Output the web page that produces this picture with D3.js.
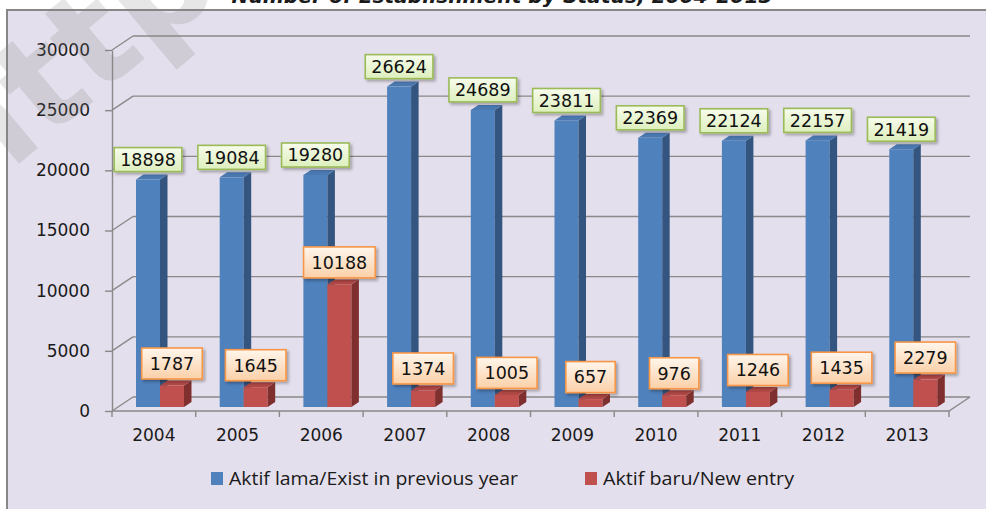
<!DOCTYPE html>
<html>
<head>
<meta charset="utf-8">
<script src="https://cdn.jsdelivr.net/npm/d3@7"></script>
<style>
  body { margin: 0; background: #ffffff; }
  svg { display: block; }
</style>
</head>
<body>
<div id="chart"></div>
<script>
// data
var years = ["2004", "2005", "2006", "2007", "2008", "2009", "2010", "2011", "2012", "2013"];
var existing = [18898, 19084, 19280, 26624, 24689, 23811, 22369, 22124, 22157, 21419];
var newEntry = [1787, 1645, 10188, 1374, 1005, 657, 976, 1246, 1435, 2279];
var yTicks = [0, 5000, 10000, 15000, 20000, 25000, 30000];
var seriesNames = ["Aktif lama/Exist in previous year", "Aktif baru/New entry"];
var title = "Number of Establishment by Status, 2004-2013";

var svgWidth = 986;
var svgHeight = 509;

// 3d box: front plane and back wall offset
var front = {left: 112, right: 949, bottom: 411, top: 50};
var depth = {dx: 21, dy: 14};
var barBase = 407;     // bars stand a bit inside the floor
var barDx = 7.5, barDy = 5;
var barW = 24;

var svg = d3.select("#chart")
  .append("svg")
  .attr("width", svgWidth)
  .attr("height", svgHeight);

var defs = svg.append("defs");

function addGrad(id, c1, c2) {
  var g = defs.append("linearGradient").attr("id", id)
    .attr("x1", 0).attr("y1", 0).attr("x2", 0).attr("y2", 1);
  g.append("stop").attr("offset", "0%").attr("stop-color", c1);
  g.append("stop").attr("offset", "100%").attr("stop-color", c2);
}
addGrad("greenFill", "#f7fcec", "#ddefbd");
addGrad("orangeFill", "#fff6ec", "#fbd0a8");

var shadow = defs.append("filter").attr("id", "shadow")
  .attr("x", "-20%").attr("y", "-20%").attr("width", "150%").attr("height", "160%");
shadow.append("feDropShadow")
  .attr("dx", 2).attr("dy", 2).attr("stdDeviation", 1.5)
  .attr("flood-color", "#000").attr("flood-opacity", 0.3);

// chart area frame
svg.append("rect")
  .attr("x", 7).attr("y", 10)
  .attr("width", 1100).attr("height", 600)
  .attr("fill", "#e4dfec")
  .attr("stroke", "#878787")
  .attr("stroke-width", 2);

// title, mostly cut off by the top of the picture
svg.append("text")
  .attr("x", 502).attr("y", 3)
  .attr("text-anchor", "middle")
  .attr("font-family", "DejaVu Sans")
  .attr("font-size", 19)
  .attr("font-style", "italic")
  .attr("font-weight", "bold")
  .attr("textLength", 541)
  .attr("lengthAdjust", "spacingAndGlyphs")
  .attr("fill", "#1a1a1a")
  .text(title);

var x = d3.scaleBand()
  .domain(years)
  .range([front.left, front.right]);

var yFront = d3.scaleLinear().domain([0, 30000]).range([front.bottom, front.top]);
var yBar = d3.scaleLinear().domain([0, 30000]).range([barBase, front.top - 4]);

var gridColor = "#898989";
var grid = svg.append("g");

// back wall gridlines + left side wall diagonals
yTicks.forEach(function(t) {
  var yf = yFront(t);
  grid.append("line")
    .attr("x1", front.left).attr("y1", yf)
    .attr("x2", front.left + depth.dx).attr("y2", yf - depth.dy)
    .attr("stroke", gridColor).attr("stroke-width", 1.4);
  grid.append("line")
    .attr("x1", front.left + depth.dx).attr("y1", yf - depth.dy)
    .attr("x2", front.right + depth.dx).attr("y2", yf - depth.dy)
    .attr("stroke", gridColor).attr("stroke-width", 1.4);
});

// floor outline
grid.append("path")
  .attr("d", "M" + front.left + "," + front.bottom +
    "L" + front.right + "," + front.bottom +
    "L" + (front.right + depth.dx) + "," + (front.bottom - depth.dy))
  .attr("fill", "none")
  .attr("stroke", gridColor).attr("stroke-width", 1.4);

// category ticks on band edges
d3.range(years.length + 1).forEach(function(i) {
  var tx = front.left + i * x.bandwidth();
  grid.append("line")
    .attr("x1", tx).attr("y1", front.bottom)
    .attr("x2", tx).attr("y2", front.bottom + 6)
    .attr("stroke", gridColor).attr("stroke-width", 1.4);
});

// y axis
var yAxis = svg.append("g")
  .attr("transform", "translate(" + front.left + ",0)")
  .call(d3.axisLeft(yFront).tickValues(yTicks).tickFormat(d3.format("d"))
    .tickSize(7).tickSizeOuter(0).tickPadding(15));
yAxis.select(".domain").attr("stroke", gridColor).attr("stroke-width", 1.4);
yAxis.selectAll(".tick line").attr("stroke", gridColor).attr("stroke-width", 1.4);
yAxis.selectAll("text")
  .attr("font-family", "DejaVu Sans")
  .attr("font-size", 17)
  .attr("fill", "#1a1a1a");

// x axis labels
var xAxis = svg.append("g")
  .attr("transform", "translate(0," + front.bottom + ")")
  .call(d3.axisBottom(x).tickSize(0).tickPadding(18));
xAxis.select(".domain").remove();
xAxis.selectAll("text")
  .attr("font-family", "DejaVu Sans")
  .attr("font-size", 17)
  .attr("fill", "#1a1a1a");

// 3d bar helper
function drawBar(g, bx, v, cFront, cSide, cTop) {
  var yt = yBar(v);
  g.append("rect")
    .attr("x", bx).attr("y", yt)
    .attr("width", barW).attr("height", barBase - yt)
    .attr("fill", cFront);
  g.append("path")
    .attr("d", "M" + (bx + barW) + "," + yt +
      "L" + (bx + barW + barDx) + "," + (yt - barDy) +
      "L" + (bx + barW + barDx) + "," + (barBase - barDy) +
      "L" + (bx + barW) + "," + barBase + "Z")
    .attr("fill", cSide);
  g.append("path")
    .attr("d", "M" + bx + "," + yt +
      "L" + (bx + barDx) + "," + (yt - barDy) +
      "L" + (bx + barW + barDx) + "," + (yt - barDy) +
      "L" + (bx + barW) + "," + yt + "Z")
    .attr("fill", cTop);
}

var bars = svg.append("g");
years.forEach(function(yr, i) {
  var bx = x(yr) + 24;
  drawBar(bars, bx, existing[i], "#4f81bd", "#33557f", "#4a78b0");
  drawBar(bars, bx + barW, newEntry[i], "#c0504d", "#7f302e", "#b24846");
});

// value labels
function drawLabel(g, cx, bottom, v, fill, stroke, padX, h) {
  var t = g.append("text")
    .attr("x", cx).attr("y", bottom - h / 2)
    .attr("dy", "0.36em")
    .attr("text-anchor", "middle")
    .attr("font-family", "DejaVu Sans")
    .attr("font-size", 17.5)
    .attr("fill", "#111")
    .text(v);
  var w = t.node().getComputedTextLength() + padX * 2;
  g.insert("rect", "text")
    .attr("x", cx - w / 2).attr("y", bottom - h)
    .attr("width", w).attr("height", h)
    .attr("fill", fill)
    .attr("stroke", stroke)
    .attr("stroke-width", 1.6)
    .attr("filter", "url(#shadow)");
}

var labels = svg.append("g");
years.forEach(function(yr, i) {
  var bx = x(yr) + 24;
  var g1 = labels.append("g");
  drawLabel(g1, bx + barW / 2, yBar(existing[i]) - 8, existing[i], "url(#greenFill)", "#9bbb59", 6, 24);
  var g2 = labels.append("g");
  drawLabel(g2, bx + barW * 1.5, yBar(newEntry[i]) - 6.5, newEntry[i], "url(#orangeFill)", "#f79646", 8, 31);
});

// legend
var legend = svg.append("g");
var legendX = [211, 585];
var legendColors = ["#4f81bd", "#c0504d"];
var legendWidths = [289, 191];
seriesNames.forEach(function(name, i) {
  legend.append("rect")
    .attr("x", legendX[i]).attr("y", 472)
    .attr("width", 12).attr("height", 13)
    .attr("fill", legendColors[i]);
  legend.append("text")
    .attr("x", legendX[i] + 18).attr("y", 479)
    .attr("dy", "0.35em")
    .attr("font-family", "Open Sans")
    .attr("font-size", 18)
    .attr("textLength", legendWidths[i])
    .attr("lengthAdjust", "spacingAndGlyphs")
    .attr("fill", "#1a1a1a")
    .text(name);
});

// faint watermark in the corner
svg.append("text")
  .attr("transform", "translate(-30,205) rotate(-40)")
  .attr("font-family", "DejaVu Sans")
  .attr("font-weight", "bold")
  .attr("font-size", 140)
  .attr("fill", "#808080")
  .attr("fill-opacity", 0.2)
  .text("http://www");
</script>
</body>
</html>
